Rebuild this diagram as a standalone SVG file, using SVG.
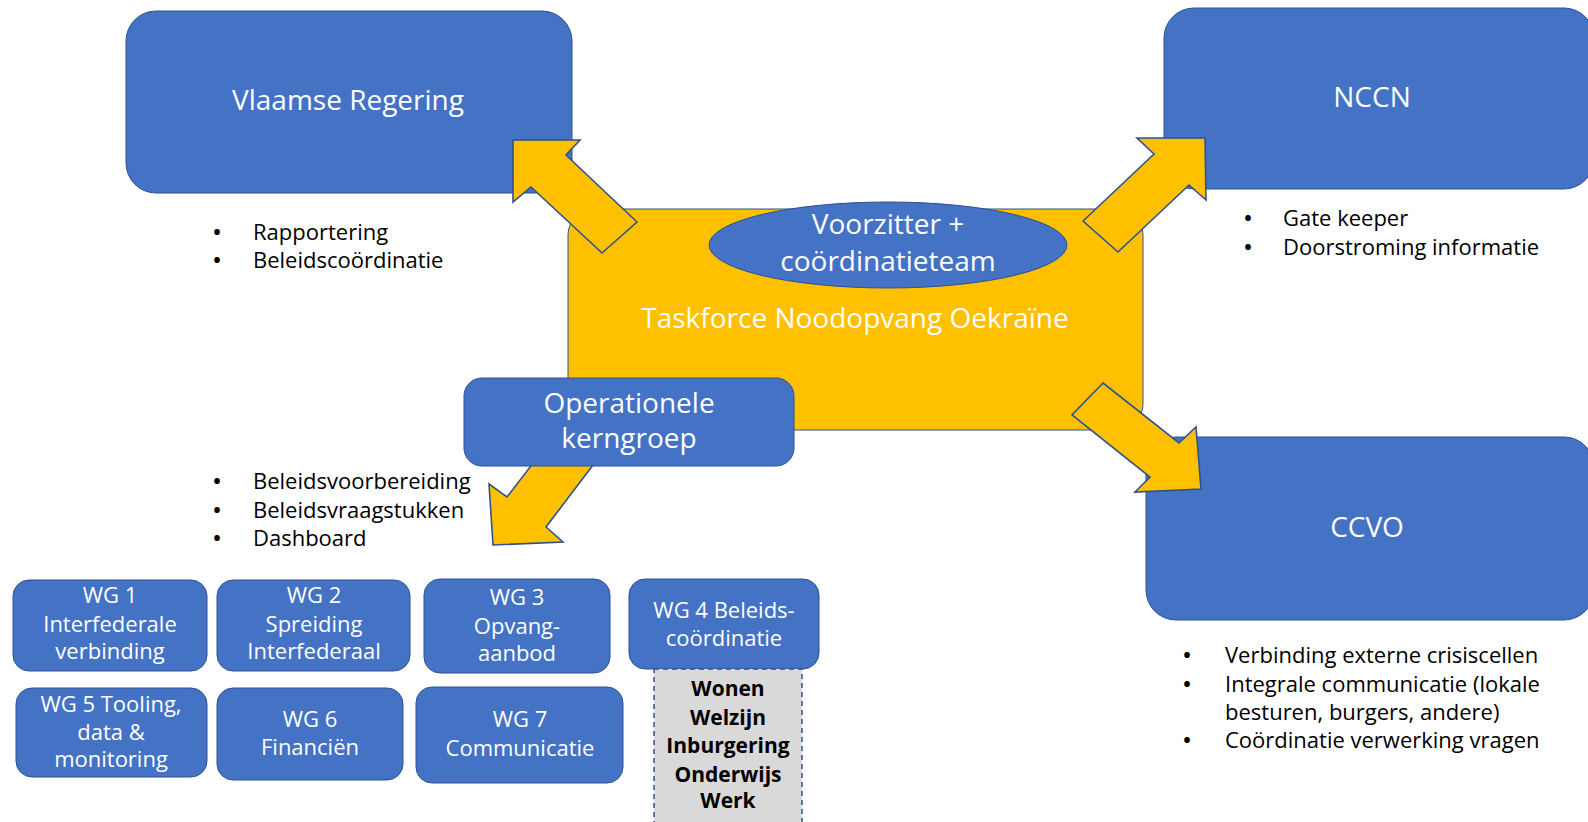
<svg xmlns="http://www.w3.org/2000/svg" width="1588" height="822" viewBox="0 0 1588 822">
<style>
.box{fill:#4472C4;stroke:#2F528F;stroke-width:1}
.org{fill:#FFC000;stroke:#2F528F;stroke-width:1}
.arr{fill:#FFC000;stroke:#2F528F;stroke-width:1.6;stroke-linejoin:miter}
.t{font-family:"Open Sans","Liberation Sans",sans-serif;fill:#FFFFFF;text-anchor:middle}
.big{font-size:28px}
.wg{font-size:22px}
.b{font-family:"Open Sans","Liberation Sans",sans-serif;font-size:22px;fill:#000000}
.dot{text-anchor:middle;font-weight:bold;font-size:20px}
.grey{fill:#D9D9D9;stroke:#2F528F;stroke-width:1.5;stroke-dasharray:5 4}
.gt{font-family:"Open Sans","Liberation Sans",sans-serif;font-size:21px;font-weight:bold;fill:#000000;text-anchor:middle}
</style>
<rect width="1588" height="822" fill="#FFFFFF"/>

<g id="vlaamse-regering">
<rect class="box" x="126" y="11" width="446" height="182" rx="30"/>
<text class="t big" x="348" y="110">Vlaamse Regering</text>
<text class="b dot" x="217" y="239">•</text><text class="b" x="253" y="240">Rapportering</text>
<text class="b dot" x="217" y="267">•</text><text class="b" x="253" y="268">Beleidscoördinatie</text>
</g>

<g id="nccn">
<rect class="box" x="1164" y="8" width="430" height="181" rx="30"/>
<text class="t big" x="1372" y="107">NCCN</text>
<text class="b dot" x="1248" y="225">•</text><text class="b" x="1283" y="226">Gate keeper</text>
<text class="b dot" x="1248" y="254">•</text><text class="b" x="1283" y="255">Doorstroming informatie</text>
</g>

<g id="ccvo">
<rect class="box" x="1146" y="437" width="448" height="183" rx="30"/>
<text class="t big" x="1367" y="537">CCVO</text>
<text class="b dot" x="1187" y="662">•</text><text class="b" x="1225" y="663">Verbinding externe crisiscellen</text>
<text class="b dot" x="1187" y="691">•</text><text class="b" x="1225" y="692">Integrale communicatie (lokale</text>
<text class="b" x="1225" y="720">besturen, burgers, andere)</text>
<text class="b dot" x="1187" y="747">•</text><text class="b" x="1225" y="748">Coördinatie verwerking vragen</text>
</g>

<g id="taskforce">
<rect class="org" x="568" y="209" width="575" height="221" rx="26"/>
<text class="t big" x="855" y="328">Taskforce Noodopvang Oekraïne</text>
</g>

<g id="voorzitter">
<ellipse class="box" cx="888" cy="245" rx="179" ry="43"/>
<text class="t big" x="888" y="234">Voorzitter +</text>
<text class="t big" x="888" y="271" font-size="28.5">coördinatieteam</text>
</g>

<g id="connectors">
<polygon class="arr" points="637,222 566,155 580,140 513,140 513,202 531,187 602,253"/>
<polygon class="arr" points="1083,221 1154,154 1137,138 1205,138 1206,200 1189,185 1118,252"/>
<polygon class="arr" points="1103,383 1179,443 1196,427 1201,489 1135,492 1150,477 1072,415"/>
<polygon class="arr" points="570,415 507,497 489,484 493,545 563,542 546,527 631,415"/>
</g>

<g id="operationele-kerngroep">
<rect class="box" x="464" y="378" width="330" height="88" rx="18"/>
<text class="t big" x="629" y="413">Operationele</text>
<text class="t big" x="629" y="448">kerngroep</text>
<text class="b dot" x="217" y="488">•</text><text class="b" x="253" y="489">Beleidsvoorbereiding</text>
<text class="b dot" x="217" y="517">•</text><text class="b" x="253" y="518">Beleidsvraagstukken</text>
<text class="b dot" x="217" y="545">•</text><text class="b" x="253" y="546">Dashboard</text>
</g>

<g id="wg1">
<rect class="box" x="13" y="580" width="194" height="91" rx="16"/>
<text class="t wg" x="110" y="603">WG 1</text>
<text class="t wg" x="110" y="632">Interfederale</text>
<text class="t wg" x="110" y="659">verbinding</text>
</g>
<g id="wg2">
<rect class="box" x="217" y="580" width="193" height="91" rx="16"/>
<text class="t wg" x="314" y="603">WG 2</text>
<text class="t wg" x="314" y="632">Spreiding</text>
<text class="t wg" x="314" y="659">Interfederaal</text>
</g>
<g id="wg3">
<rect class="box" x="424" y="579" width="186" height="94" rx="16"/>
<text class="t wg" x="517" y="605">WG 3</text>
<text class="t wg" x="517" y="634">Opvang-</text>
<text class="t wg" x="517" y="661">aanbod</text>
</g>
<g id="wg4">
<rect class="box" x="629" y="579" width="190" height="90" rx="16"/>
<text class="t wg" x="724" y="618">WG 4 Beleids-</text>
<text class="t wg" x="724" y="646">coördinatie</text>
</g>
<g id="wg4-themas">
<rect class="grey" x="654" y="669" width="148" height="160"/>
<text class="gt" x="728" y="696">Wonen</text>
<text class="gt" x="728" y="725">Welzijn</text>
<text class="gt" x="728" y="753">Inburgering</text>
<text class="gt" x="728" y="782">Onderwijs</text>
<text class="gt" x="728" y="808">Werk</text>
</g>
<g id="wg5">
<rect class="box" x="16" y="688" width="191" height="89" rx="16"/>
<text class="t wg" x="111" y="712">WG 5 Tooling,</text>
<text class="t wg" x="111" y="740">data &amp;</text>
<text class="t wg" x="111" y="767">monitoring</text>
</g>
<g id="wg6">
<rect class="box" x="217" y="688" width="186" height="92" rx="16"/>
<text class="t wg" x="310" y="727">WG 6</text>
<text class="t wg" x="310" y="755">Financiën</text>
</g>
<g id="wg7">
<rect class="box" x="416" y="687" width="207" height="96" rx="16"/>
<text class="t wg" x="520" y="727">WG 7</text>
<text class="t wg" x="520" y="756">Communicatie</text>
</g>
</svg>
